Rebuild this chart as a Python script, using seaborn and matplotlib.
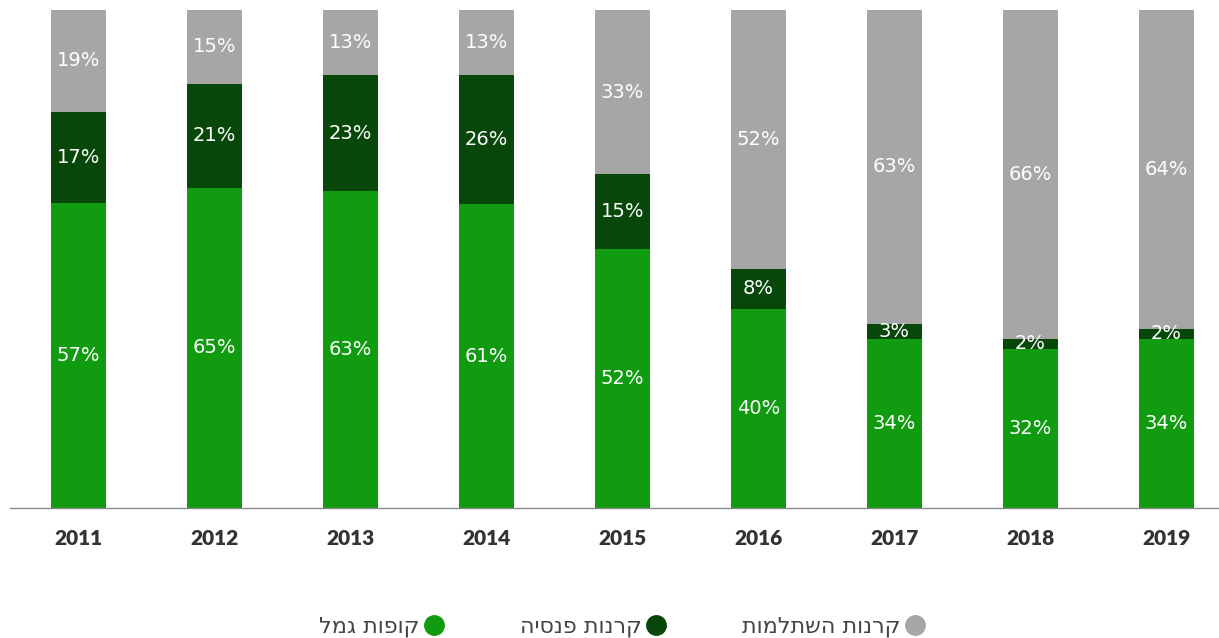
import numpy as np
import pandas as pd
import seaborn as sns
import matplotlib.pyplot as plt
from matplotlib.lines import Line2D

years = ['2011', '2012', '2013', '2014', '2015', '2016', '2017', '2018', '2019']
gemel = [57, 65, 63, 61, 52, 40, 34, 32, 34]        # קופות גמל
pensia = [17, 21, 23, 26, 15, 8, 3, 2, 2]           # קרנות פנסיה
hishtalmut = [19, 15, 13, 13, 33, 52, 63, 66, 64]   # קרנות השתלמות

series_names = ['קופות גמל', 'קרנות פנסיה', 'קרנות השתלמות']
colors = ['#109b10', '#07470a', '#a6a6a6']


def heb(s):
    # matplotlib has no bidi support, so reverse Hebrew for visual order
    return s[::-1]


df = pd.DataFrame({'year': years, 'gemel': gemel, 'pensia': pensia, 'hishtalmut': hishtalmut})
tot = df[['gemel', 'pensia', 'hishtalmut']].sum(axis=1)
df['g'] = df['gemel'] / tot * 100
df['p'] = df['pensia'] / tot * 100
df['h'] = df['hishtalmut'] / tot * 100
df['c1'] = df['g']
df['c2'] = df['g'] + df['p']
df['c3'] = df['c2'] + df['h']

sns.set_style('white')
plt.rcParams['font.family'] = ['DejaVu Sans']

fig = plt.figure(figsize=(12.19, 6.38), dpi=100)
ax = fig.add_axes([10 / 1219, 130 / 638, 1209 / 1219, 498 / 638])

for col, c in zip(['c3', 'c2', 'c1'], colors[::-1]):
    sns.barplot(data=df, x='year', y=col, color=c, width=0.4, ax=ax,
                saturation=1, edgecolor='none')

# segment labels
for i, row in df.iterrows():
    bottoms = [0, row['c1'], row['c2']]
    heights = [row['g'], row['p'], row['h']]
    vals = [row['gemel'], row['pensia'], row['hishtalmut']]
    for b, h, v in zip(bottoms, heights, vals):
        ax.text(i, b + h / 2, f'{v}%', ha='center', va='center', color='white', fontsize=14)

ax.set_xlim(-0.503, 8.387)
ax.set_ylim(0, 100)
ax.set_xlabel('')
ax.set_ylabel('')
ax.set_yticks([])
ax.tick_params(axis='x', length=0, pad=15)
for lbl in ax.get_xticklabels():
    lbl.set_family('Lato')
    lbl.set_fontweight('heavy')
    lbl.set_fontsize(15)
    lbl.set_color('#333333')
for s in ['top', 'left', 'right']:
    ax.spines[s].set_visible(False)
ax.spines['bottom'].set_color('#8a8a8a')
ax.spines['bottom'].set_linewidth(1)

order = [0, 1, 2]
handles = [Line2D([], [], marker='o', linestyle='none', markersize=14,
                  markerfacecolor=colors[k], markeredgecolor=colors[k]) for k in order]
labels = [heb(series_names[k]) for k in order]
leg = fig.legend(handles, labels, loc='center', bbox_to_anchor=(622 / 1219, 1 - 627 / 638),
                 ncol=3, frameon=False, markerfirst=False, fontsize=16,
                 columnspacing=3.4, handletextpad=0.2, handlelength=0.9)
for t in leg.get_texts():
    t.set_color('#444444')

fig.savefig('out.png', dpi=100)
